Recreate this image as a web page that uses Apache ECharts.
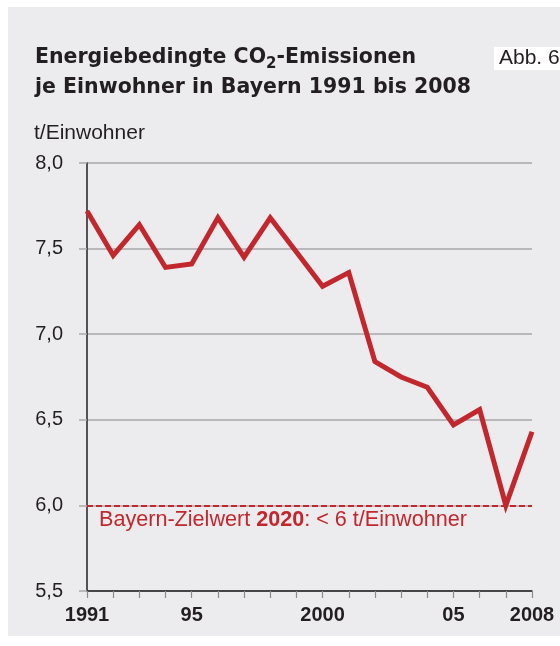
<!DOCTYPE html>
<html>
<head>
<meta charset="utf-8">
<script src="https://cdn.jsdelivr.net/npm/echarts@6/dist/echarts.min.js"></script>
<style>html,body{margin:0;padding:0;background:#fff}#c{width:560px;height:646px}</style>
</head>
<body>
<div id="c"></div>
<script>
// ---- data ----
const years = [1991,1992,1993,1994,1995,1996,1997,1998,1999,2000,2001,2002,2003,2004,2005,2006,2007,2008];
const emissions = [7.72,7.46,7.64,7.39,7.41,7.68,7.45,7.68,7.48,7.28,7.36,6.84,6.75,6.69,6.47,6.56,6.00,6.43];
const labelYears = [1991,1995,2000,2005,2008];
const labelTexts = ['1991','95','2000','05','2008'];
const yTicks = [5.5,6.0,6.5,7.0,7.5,8.0];
const targetValue = 6.0;

const RED = '#c1272d';
const DARK = '#231f20';
const GRID = '#a9a9ab';
const PANEL = '#ececee';

const chart = echarts.init(document.getElementById('c'), null, {renderer:'canvas'});
chart.setOption({
  backgroundColor: PANEL,
  animation: false,
  title: [
    {
      left: 35, top: 43, padding: 0,
      text: '{b|Energiebedingte CO}{s|2}{b|-Emissionen}\n{b|je Einwohner in Bayern 1991 bis 2008}',
      textStyle: {
        rich: {
          b: {fontFamily:'DejaVu Sans', fontWeight:'bold', fontSize:20.5, color:DARK, lineHeight:30},
          s: {fontFamily:'DejaVu Sans', fontWeight:'bold', fontSize:15, color:DARK, lineHeight:30, padding:[13,0,0,0]}
        }
      }
    },
    {
      left: 34, top: 122, padding: 0,
      text: 't/Einwohner',
      textStyle: {fontFamily:'Liberation Sans', fontWeight:'normal', fontSize:21, color:DARK, lineHeight:23}
    },
    {
      left: 494, top: 47,
      text: 'Abb. 6',
      backgroundColor: '#ffffff',
      padding: [0, 8, 0, 5],
      textStyle: {fontFamily:'Liberation Sans', fontWeight:'normal', fontSize:21, color:DARK, lineHeight:23}
    }
  ],
  graphic: [
    {type:'rect', shape:{x:0,y:0,width:560,height:7}, style:{fill:'#ffffff'}, silent:true},
    {type:'rect', shape:{x:0,y:0,width:8,height:646}, style:{fill:'#ffffff'}, silent:true},
    {type:'rect', shape:{x:0,y:636,width:560,height:10}, style:{fill:'#ffffff'}, silent:true}
  ],
  grid: {left: 87, right: 28, top: 163, bottom: 55, containLabel: false},
  xAxis: {
    type: 'value', min: 1991, max: 2008, interval: 1,
    axisLine: {show: true, lineStyle: {color: DARK, width: 1.5}},
    axisTick: {show: true, length: 7, inside: false, lineStyle: {color: '#8c8c8e', width: 1.2}},
    splitLine: {show: false},
    axisLabel: {
      margin: 14,
      fontFamily: 'Liberation Sans', fontWeight: 'bold', fontSize: 20, color: DARK,
      showMinLabel: true, showMaxLabel: true,
      formatter: function (v) { const i = labelYears.indexOf(v); return i >= 0 ? labelTexts[i] : ''; }
    }
  },
  yAxis: {
    type: 'value', min: yTicks[0], max: yTicks[yTicks.length-1], interval: 0.5,
    axisLine: {show: true, lineStyle: {color: DARK, width: 1.5}},
    axisTick: {show: true, length: 8, inside: false, lineStyle: {color: GRID, width: 1.5}},
    splitLine: {show: true, lineStyle: {color: GRID, width: 1.5}},
    axisLabel: {
      margin: 24,
      fontFamily: 'Liberation Sans', fontSize: 20, color: DARK,
      formatter: function (v) { return v.toFixed(1).replace('.', ','); }
    }
  },
  series: [{
    type: 'line',
    data: years.map((y, i) => [y, emissions[i]]),
    showSymbol: false,
    symbol: 'none',
    lineStyle: {color: RED, width: 5, join: 'miter'},
    z: 5,
    markLine: {
      silent: true,
      symbol: ['none', 'none'],
      lineStyle: {color: RED, width: 2, type: [6, 3]},
      data: [{yAxis: targetValue}],
      label: {
        show: true,
        position: 'insideStartBottom',
        distance: [12, 4],
        formatter: '{n|Bayern-Zielwert }{bd|2020}{n|: < 6 t/Einwohner}',
        rich: {
          n: {fontFamily:'Liberation Sans', fontSize:21.6, color: RED},
          bd: {fontFamily:'Liberation Sans', fontSize:21.6, fontWeight:'bold', color: RED}
        }
      }
    }
  }]
});
</script>
</body>
</html>
